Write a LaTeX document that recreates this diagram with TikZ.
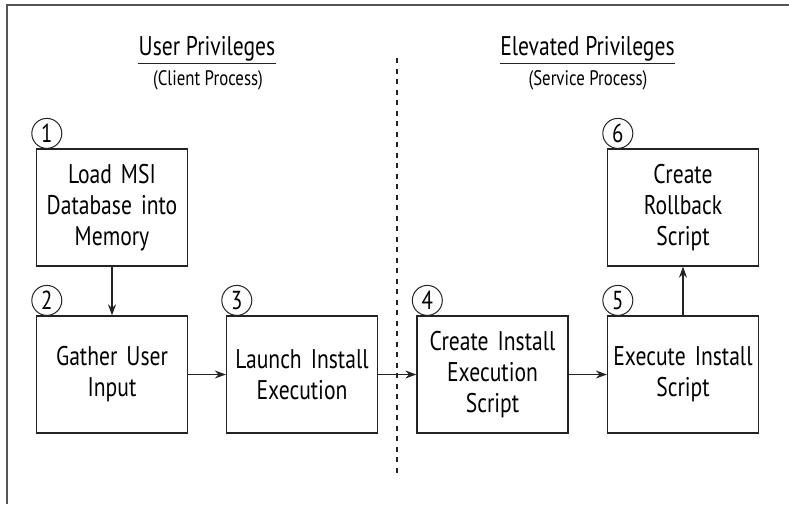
\documentclass[tikz,border=0pt]{standalone}
\usepackage{fontspec}
\setmainfont{PT Sans}[FakeStretch=0.8]
\usetikzlibrary{arrows.meta}
\newcommand{\bw}{151}
\newcommand{\bh}{117}
\newcommand{\hautfont}[2]{\fontsize{#1}{#2}\selectfont}
\definecolor{traitgris}{RGB}{35,35,35}
\definecolor{cadregris}{RGB}{85,85,85}
\tikzstyle{etape}=[draw=traitgris,line width=1.3pt,minimum width=\bw pt,minimum height=\bh pt,inner sep=0pt,align=center,text width=148pt,font=\hautfont{27}{31}]
\tikzstyle{rond}=[draw=traitgris,circle,line width=1pt,minimum size=30pt,inner sep=0pt,anchor=south west,font=\hautfont{26}{26}]
\tikzstyle{fleche}=[traitgris,line width=1.3pt,-{Stealth[length=11pt,width=8pt]}]
\tikzstyle{titre}=[inner sep=0pt,anchor=base,font=\hautfont{27}{27}]
\tikzstyle{soustitre}=[inner sep=0pt,anchor=base,font=\hautfont{21}{21}]

\begin{document}
\begin{tikzpicture}[x=1pt,y=-1pt]

\useasboundingbox (0,0) rectangle (789,504);

% cadre
\draw[cadregris,line width=2.5pt] (789,5) -- (7,5) -- (7,504);

% separation
\draw[traitgris,line width=1.3pt,dash pattern=on 5pt off 5.5pt] (397,58) -- (397,477);

% titres
\node[titre] (tUser) at (207,55) {User Privileges};
\node[soustitre] (sUser) at (208,85) {(Client Process)};
\node[titre] (tElev) at (587.5,55) {Elevated Privileges};
\node[soustitre] (sElev) at (588,85) {(Service Process)};

\draw[traitgris,line width=1.3pt] ([yshift=-8.5pt]tUser.base west) -- ([yshift=-8.5pt]tUser.base east);
\draw[traitgris,line width=1.3pt] ([yshift=-8.5pt]tElev.base west) -- ([yshift=-8.5pt]tElev.base east);

% etapes
\node[etape] (b1) at (112,207.5) {Load MSI\\Database into\\Memory};
\node[etape] (b2) at (112,374.5) {Gather User\\Input};
\node[etape] (b3) at (302,374.5) {Launch Install\\Execution};
\node[etape] (b4) at (492.5,374.5) {Create Install\\Execution\\Script};
\node[etape] (b5) at (683,374.5) {Execute Install\\Script};
\node[etape] (b6) at (683,207.5) {Create\\Rollback\\Script};

\foreach \i in {1,...,6}
\node[rond] (n\i) at ([yshift=4pt]b\i.north west) {\i};

% fleches
\draw[fleche] (b1) -- (b2);
\draw[fleche] (b2) -- (b3);
\draw[fleche] (b3) -- (b4);
\draw[fleche] (b4) -- (b5);
\draw[fleche] (b5) -- (b6);

\end{tikzpicture}
\end{document}
